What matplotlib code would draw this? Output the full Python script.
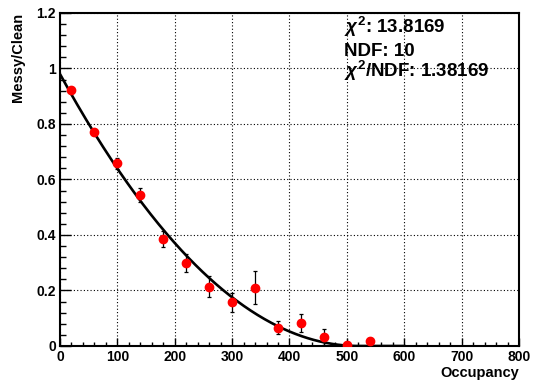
import numpy as np
import matplotlib
matplotlib.use('Agg')
import matplotlib.pyplot as plt
from matplotlib.ticker import MultipleLocator

plt.rcParams['font.family'] = ['Liberation Sans', 'DejaVu Sans']
plt.rcParams['font.weight'] = 'bold'
plt.rcParams['mathtext.fontset'] = 'custom'
plt.rcParams['mathtext.rm'] = 'Liberation Sans:bold'
plt.rcParams['mathtext.it'] = 'Liberation Sans:italic:bold'
plt.rcParams['mathtext.bf'] = 'Liberation Sans:bold'

# measured points
occupancy = [20, 60, 100, 140, 180, 220, 260, 300, 340, 380, 420, 460, 500, 540]
ratio     = [0.922, 0.771, 0.659, 0.544, 0.386, 0.299, 0.214, 0.157, 0.210, 0.066, 0.084, 0.032, 0.004, 0.017]
ratio_err = [0.010, 0.012, 0.020, 0.024, 0.030, 0.031, 0.037, 0.033, 0.060, 0.023, 0.032, 0.028, 0.008, 0.010]

# fit: p0*(1 - x/p1)^2 on [0, 600], zero beyond p1
fit_p0 = 0.98
fit_p1 = 520.0
fit_range = (0, 600)

chi2_text = [r'$\chi^{2}$: 13.8169', 'NDF: 10', r'$\chi^{2}$/NDF: 1.38169']

fig = plt.figure(figsize=(5.38, 3.8), dpi=100)
ax = fig.add_axes([0.1115, 0.0895, 0.8532, 0.8763])

xf = np.linspace(fit_range[0], fit_range[1], 400)
yf = fit_p0 * np.clip(1 - xf / fit_p1, 0, None) ** 2
ax.plot(xf, yf, color='black', lw=1.9, zorder=3)

ax.errorbar(occupancy, ratio, yerr=ratio_err, fmt='o', color='red', ms=6,
            ecolor='black', elinewidth=0.9, capsize=1.5, capthick=0.9, zorder=4)

ax.set_xlim(0, 800)
ax.set_ylim(0, 1.2)
ax.xaxis.set_major_locator(MultipleLocator(100))
ax.xaxis.set_minor_locator(MultipleLocator(20))
ax.yaxis.set_major_locator(MultipleLocator(0.2))
ax.yaxis.set_minor_locator(MultipleLocator(0.04))
ax.set_yticks([0, 0.2, 0.4, 0.6, 0.8, 1.0, 1.2])
ax.set_yticklabels(['0', '0.2', '0.4', '0.6', '0.8', '1', '1.2'])
ax.grid(True, which='major', color='black', linestyle=(0, (1, 2)), lw=0.8)

ax.tick_params(axis='both', which='both', direction='in', top=False, right=False,
               labelsize=10, width=1)
ax.tick_params(axis='x', which='major', length=6, pad=3)
ax.tick_params(axis='x', which='minor', length=3)
ax.tick_params(axis='y', which='major', length=8, pad=3)
ax.tick_params(axis='y', which='minor', length=4)
for lab in ax.get_xticklabels() + ax.get_yticklabels():
    lab.set_fontweight('bold')
for s in ax.spines.values():
    s.set_linewidth(1.5)

ax.set_xlabel('Occupancy', fontsize=10.5, fontweight='bold', loc='right', labelpad=1)
ax.set_ylabel('Messy/Clean', fontsize=10.5, fontweight='bold', loc='top', labelpad=8)

ys = [0.913, 0.853, 0.797]
for t, yy in zip(chi2_text, ys):
    fig.text(0.64, yy, t, fontsize=13.5, fontweight='bold', va='baseline')

fig.savefig('out.png', dpi=100)
